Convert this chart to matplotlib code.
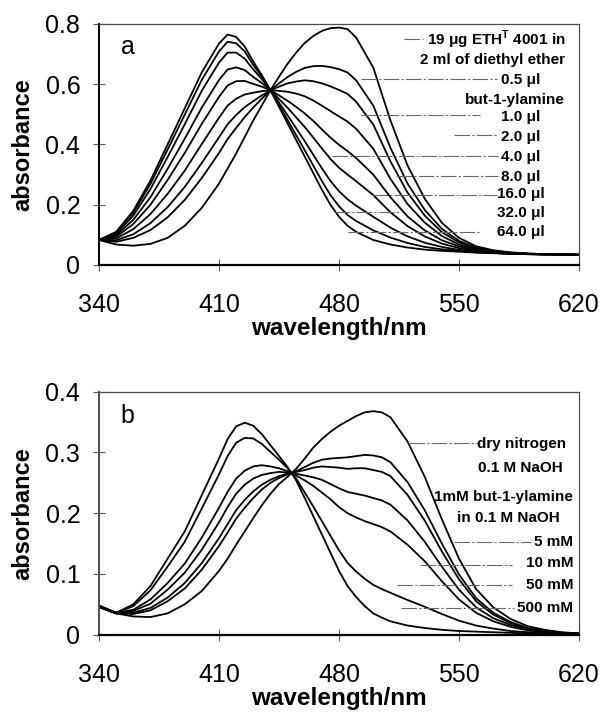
import matplotlib
matplotlib.use('Agg')
import matplotlib.pyplot as plt

plt.rcParams['font.family'] = ['Liberation Sans', 'DejaVu Sans']
plt.rcParams['mathtext.fontset'] = 'custom'
plt.rcParams['mathtext.rm'] = 'Liberation Sans:bold'
plt.rcParams['mathtext.bf'] = 'Liberation Sans:bold'

# ---- panel a: ETH T 4001 in diethyl ether + but-1-ylamine ----
wl_a = [340, 350, 360, 370, 380, 390, 400, 410, 415, 420, 425, 430, 435, 440,
        445, 450, 455, 460, 465, 470, 475, 480, 485, 490, 500, 510, 520, 530,
        540, 550, 560, 570, 580, 590, 600, 610, 620]

ether = [0.083, 0.068, 0.064, 0.070, 0.090, 0.130, 0.190, 0.270, 0.320, 0.370, 0.425, 0.480, 0.530, 0.580,
         0.625, 0.668, 0.705, 0.737, 0.760, 0.777, 0.786, 0.788, 0.783, 0.755, 0.655, 0.480, 0.330, 0.220,
         0.140, 0.090, 0.062, 0.049, 0.042, 0.038, 0.036, 0.035, 0.034]
ul_05 = [0.083, 0.077, 0.090, 0.116, 0.158, 0.216, 0.289, 0.372, 0.418, 0.455, 0.491, 0.523, 0.552, 0.580,
         0.603, 0.624, 0.641, 0.654, 0.660, 0.661, 0.657, 0.650, 0.639, 0.613, 0.529, 0.389, 0.270, 0.183,
         0.120, 0.080, 0.057, 0.047, 0.041, 0.038, 0.036, 0.035, 0.034]
ul_1 = [0.083, 0.082, 0.102, 0.139, 0.192, 0.259, 0.339, 0.424, 0.467, 0.498, 0.524, 0.544, 0.563, 0.580,
        0.592, 0.603, 0.609, 0.613, 0.610, 0.603, 0.593, 0.581, 0.568, 0.542, 0.466, 0.344, 0.240, 0.164,
        0.109, 0.075, 0.055, 0.046, 0.040, 0.037, 0.036, 0.035, 0.034]
ul_2 = [0.083, 0.088, 0.119, 0.169, 0.236, 0.313, 0.402, 0.489, 0.529, 0.552, 0.566, 0.572, 0.577, 0.580,
        0.578, 0.575, 0.569, 0.560, 0.546, 0.529, 0.511, 0.493, 0.476, 0.452, 0.386, 0.286, 0.202, 0.141,
        0.096, 0.068, 0.052, 0.044, 0.040, 0.037, 0.036, 0.035, 0.034]
ul_4 = [0.083, 0.094, 0.136, 0.200, 0.282, 0.372, 0.469, 0.558, 0.596, 0.610, 0.611, 0.601, 0.592, 0.580,
        0.563, 0.545, 0.525, 0.503, 0.478, 0.450, 0.423, 0.399, 0.378, 0.355, 0.300, 0.225, 0.161, 0.115,
        0.082, 0.062, 0.049, 0.043, 0.039, 0.037, 0.035, 0.035, 0.034]
ul_8 = [0.083, 0.099, 0.150, 0.225, 0.319, 0.419, 0.523, 0.614, 0.649, 0.656, 0.647, 0.624, 0.604, 0.580,
        0.551, 0.522, 0.490, 0.458, 0.423, 0.387, 0.352, 0.323, 0.300, 0.278, 0.232, 0.175, 0.129, 0.095,
        0.071, 0.056, 0.047, 0.042, 0.038, 0.037, 0.035, 0.035, 0.034]
ul_16 = [0.083, 0.104, 0.164, 0.252, 0.358, 0.467, 0.579, 0.672, 0.705, 0.705, 0.685, 0.649, 0.617, 0.580,
         0.539, 0.497, 0.454, 0.411, 0.366, 0.321, 0.279, 0.245, 0.218, 0.197, 0.160, 0.124, 0.095, 0.074,
         0.060, 0.050, 0.044, 0.040, 0.038, 0.036, 0.035, 0.035, 0.034]
ul_32 = [0.083, 0.108, 0.174, 0.269, 0.383, 0.499, 0.615, 0.709, 0.741, 0.736, 0.709, 0.664, 0.625, 0.580,
         0.531, 0.481, 0.431, 0.381, 0.330, 0.279, 0.232, 0.195, 0.166, 0.146, 0.115, 0.091, 0.073, 0.060,
         0.052, 0.047, 0.042, 0.040, 0.037, 0.036, 0.035, 0.035, 0.034]
ul_64 = [0.083, 0.110, 0.180, 0.280, 0.400, 0.520, 0.640, 0.735, 0.765, 0.757, 0.725, 0.675, 0.630, 0.580,
         0.525, 0.470, 0.415, 0.360, 0.305, 0.250, 0.200, 0.160, 0.130, 0.110, 0.083, 0.068, 0.058, 0.051,
         0.047, 0.044, 0.041, 0.039, 0.037, 0.036, 0.035, 0.035, 0.034]
curves_a = [ether, ul_05, ul_1, ul_2, ul_4, ul_8, ul_16, ul_32, ul_64]

labels_a = ['19 μg ETH$^{\\mathbf{T}}$ 4001 in', '2 ml of diethyl ether', '0.5 μl', 'but-1-ylamine',
            '1.0 μl', '2.0 μl', '4.0 μl', '8.0 μl', '16.0 μl', '32.0 μl', '64.0 μl']
lab_a_x = [612, 612, 586, 612, 586, 586, 586, 586, 586, 586, 586]
lab_a_y = [0.749, 0.680, 0.614, 0.548, 0.490, 0.426, 0.360, 0.293, 0.236, 0.174, 0.110]
lab_a_ha = ['right', 'right', 'center', 'right', 'center', 'center', 'center', 'center',
            'center', 'center', 'center']
# leader lines: x start, x end, y
lead_a = [(518, 529, 0.749), (493, 572, 0.618), (493, 562, 0.498), (547, 572, 0.432),
          (476, 573, 0.362), (513, 573, 0.295), (499, 572, 0.232), (477, 516, 0.176),
          (485, 562, 0.110)]

# ---- panel b: sensing film in gas phase ----
wl_b = [340, 350, 360, 370, 380, 390, 400, 410, 415, 420, 425, 430, 435, 440, 445, 450,
        455, 460, 465, 470, 475, 480, 485, 490, 495, 500, 505, 510, 520, 530, 540, 550,
        560, 570, 580, 590, 600, 610, 620]

dry_n2 = [0.045, 0.035, 0.030, 0.029, 0.035, 0.050, 0.072, 0.105, 0.125, 0.148, 0.170, 0.192, 0.213, 0.232,
          0.248, 0.260, 0.273, 0.290, 0.308, 0.322, 0.334, 0.344, 0.352, 0.360, 0.366, 0.368, 0.366, 0.358,
          0.318, 0.260, 0.190, 0.125, 0.075, 0.045, 0.026, 0.014, 0.008, 0.004, 0.002]
naoh = [0.046, 0.035, 0.034, 0.040, 0.055, 0.076, 0.107, 0.146, 0.168, 0.191, 0.209, 0.225, 0.239, 0.250,
        0.258, 0.264, 0.269, 0.276, 0.283, 0.288, 0.290, 0.291, 0.292, 0.294, 0.296, 0.295, 0.292, 0.284,
        0.251, 0.205, 0.150, 0.099, 0.060, 0.036, 0.021, 0.011, 0.006, 0.003, 0.002]
mm_1 = [0.046, 0.035, 0.036, 0.044, 0.061, 0.085, 0.118, 0.159, 0.182, 0.205, 0.222, 0.236, 0.247, 0.255,
        0.261, 0.265, 0.268, 0.271, 0.275, 0.277, 0.276, 0.275, 0.273, 0.274, 0.274, 0.271, 0.268, 0.261,
        0.230, 0.188, 0.137, 0.091, 0.055, 0.033, 0.019, 0.010, 0.006, 0.003, 0.002]
mm_5 = [0.046, 0.035, 0.039, 0.051, 0.074, 0.102, 0.140, 0.185, 0.210, 0.232, 0.247, 0.257, 0.263, 0.266,
        0.268, 0.267, 0.265, 0.262, 0.259, 0.255, 0.248, 0.241, 0.235, 0.232, 0.229, 0.225, 0.221, 0.214,
        0.188, 0.153, 0.112, 0.074, 0.045, 0.027, 0.016, 0.009, 0.005, 0.003, 0.002]
mm_10 = [0.047, 0.036, 0.041, 0.058, 0.085, 0.117, 0.160, 0.209, 0.235, 0.257, 0.270, 0.277, 0.279, 0.277,
         0.274, 0.269, 0.262, 0.254, 0.245, 0.234, 0.223, 0.210, 0.200, 0.193, 0.187, 0.182, 0.177, 0.170,
         0.148, 0.121, 0.088, 0.058, 0.036, 0.022, 0.013, 0.007, 0.004, 0.002, 0.001]
mm_50 = [0.048, 0.036, 0.047, 0.073, 0.112, 0.153, 0.208, 0.264, 0.294, 0.316, 0.324, 0.323, 0.314, 0.301,
         0.288, 0.274, 0.257, 0.234, 0.211, 0.187, 0.163, 0.139, 0.118, 0.104, 0.092, 0.082, 0.075, 0.069,
         0.057, 0.046, 0.034, 0.023, 0.015, 0.010, 0.006, 0.004, 0.002, 0.001, 0.000]
mm_500 = [0.048, 0.036, 0.050, 0.080, 0.125, 0.170, 0.230, 0.290, 0.322, 0.343, 0.349, 0.344, 0.330, 0.312,
          0.294, 0.276, 0.254, 0.225, 0.195, 0.165, 0.135, 0.105, 0.080, 0.062, 0.047, 0.035, 0.028, 0.022,
          0.015, 0.011, 0.008, 0.006, 0.005, 0.004, 0.003, 0.002, 0.001, 0.001, 0.000]
curves_b = [dry_n2, naoh, mm_1, mm_5, mm_10, mm_50, mm_500]

labels_b = ['dry nitrogen', '0.1 M NaOH', '1mM but-1-ylamine', 'in 0.1 M NaOH',
            '5 mM', '10 mM', '50 mM', '500 mM']
lab_b_x = [612.5, 610.5, 616.5, 609, 616.5, 616.5, 616.5, 616.5]
lab_b_y = [0.314, 0.274, 0.226, 0.192, 0.153, 0.118, 0.082, 0.0435]
lead_b = [(521, 562, 0.315), (547, 592, 0.153), (527, 581, 0.115), (514, 581, 0.082),
          (516, 582, 0.0435)]

xticks = [340, 410, 480, 550, 620]

fig = plt.figure(figsize=(6.03, 7.16), dpi=100)
ax_a = fig.add_axes([0.1642, 0.6299, 0.796, 0.3366])
ax_b = fig.add_axes([0.1642, 0.1136, 0.796, 0.3393])

leader_style = dict(color='0.4', lw=0.8, ls=(0, (14, 2, 2, 2)))


def style(ax, ymax, yticks, ylabels, left_col):
    ax.set_xlim(340, 620)
    ax.set_ylim(0, ymax)
    ax.set_xticks(xticks)
    ax.set_xticklabels([str(t) for t in xticks])
    ax.set_yticks(yticks)
    ax.set_yticklabels(ylabels)
    ax.tick_params(direction='inout', length=9, width=0.8, labelsize=18, color='0.35')
    ax.tick_params(axis='x', pad=16)
    ax.tick_params(axis='y', pad=9)
    ax.spines['left'].set_linewidth(1.4)
    ax.spines['left'].set_color(left_col)
    ax.spines['bottom'].set_linewidth(1.6)
    for s in ['top', 'right']:
        ax.spines[s].set_linewidth(0.9)
        ax.spines[s].set_color('0.3')
    ax.set_xlabel('wavelength/nm', fontsize=17.5, fontweight='bold', labelpad=0)
    ax.set_ylabel('absorbance', fontsize=17, fontweight='bold', labelpad=8)


for y in curves_a:
    ax_a.plot(wl_a, y, color='black', lw=1.3)
for x0, x1, y in lead_a:
    ax_a.plot([x0, x1], [y, y], **leader_style)
for t, x, y, ha in zip(labels_a, lab_a_x, lab_a_y, lab_a_ha):
    ax_a.text(x, y, t, ha=ha, va='center', fontsize=11, fontweight='bold')
ax_a.text(356.6, 0.725, 'a', fontsize=18, ha='center', va='center')
style(ax_a, 0.8, [0, 0.2, 0.4, 0.6, 0.8], ['0', '0.2', '0.4', '0.6', '0.8'], 'black')

for y in curves_b:
    ax_b.plot(wl_b, y, color='black', lw=1.3)
for x0, x1, y in lead_b:
    ax_b.plot([x0, x1], [y, y], **leader_style)
for t, x, y in zip(labels_b, lab_b_x, lab_b_y):
    ax_b.text(x, y, t, ha='right', va='center', fontsize=11, fontweight='bold')
ax_b.text(356.6, 0.36, 'b', fontsize=18, ha='center', va='center')
style(ax_b, 0.4, [0, 0.1, 0.2, 0.3, 0.4], ['0', '0.1', '0.2', '0.3', '0.4'], '0.3')

fig.savefig('out.png', dpi=100)
